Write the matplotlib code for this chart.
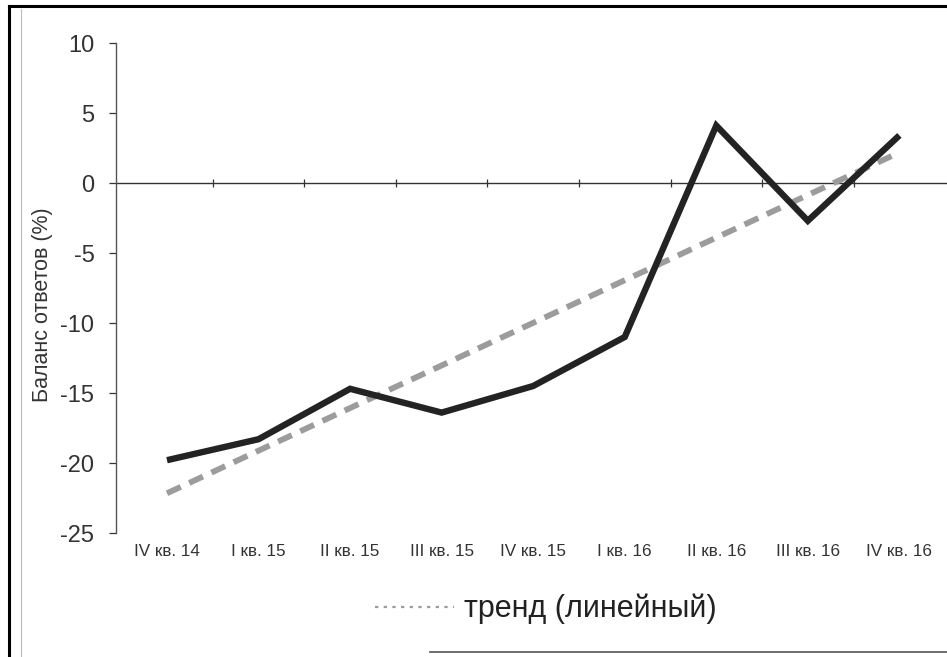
import matplotlib.pyplot as plt
import numpy as np
from matplotlib.lines import Line2D

plt.rcParams["font.family"] = ["Liberation Sans", "DejaVu Sans"]
plt.rcParams["axes.unicode_minus"] = False

# quarters and survey balance (%)
quarters = ["IV кв. 14", "I кв. 15", "II кв. 15", "III кв. 15", "IV кв. 15",
            "I кв. 16", "II кв. 16", "III кв. 16", "IV кв. 16"]
balance = [-19.8, -18.3, -14.7, -16.4, -14.5, -11.0, 4.1, -2.7, 3.4]

x = np.arange(len(quarters))
# linear trend, as in the original ("тренд (линейный)")
k, b = np.polyfit(x, balance, 1)
trend = k * x + b

fig = plt.figure(figsize=(9.47, 6.57), dpi=100)
ax = fig.add_axes([116 / 947, 124 / 657, 1 - 116 / 947, 490 / 657])

ax.plot(x, balance, color="#232323", lw=4.6, solid_joinstyle="miter",
        solid_capstyle="butt", zorder=3)
tr, = ax.plot(x, trend, color="#9c9c9c", lw=4.2, dashes=(2.6, 1.6),
              label="тренд (линейный)", zorder=2)

ax.set_ylim(-25, 10)
ax.set_xlim(-0.557, 8.52)
ax.set_yticks(range(-25, 11, 5))
ax.tick_params(axis="y", direction="out", length=5, width=0.9,
               labelsize=17, pad=10.5, colors="#333333")
ax.set_ylabel("Баланс ответов (%)", fontsize=15.5, color="#333333")
ax.yaxis.set_label_coords(-0.076, 0.465)

for s in ["top", "right", "bottom"]:
    ax.spines[s].set_visible(False)
ax.spines["left"].set_color("#555555")
ax.spines["left"].set_linewidth(1.0)

# category labels at the bottom
ax.set_xticks(x)
ax.set_xticklabels(quarters)
ax.tick_params(axis="x", length=0, labelsize=12.3, pad=8, colors="#333333")

# category axis crossing at zero with ticks between categories
sec = ax.secondary_xaxis(0, transform=ax.transData)
sec.spines["bottom"].set_color("#333333")
sec.spines["bottom"].set_linewidth(1.0)
sec.set_xticks(x[:-1] + 0.5)
sec.set_xticklabels([])
sec.tick_params(direction="inout", length=6, width=0.9, colors="#333333")

leg = ax.legend(handles=[tr], loc="center", bbox_to_anchor=(0.517, -0.155),
                frameon=False, fontsize=22, handlelength=2.6, handletextpad=0.3)
h = leg.legend_handles[0]
h.set_linewidth(1.6)
h.set_dashes((1.5, 2.4))
for t in leg.get_texts():
    t.set_color("#222222")

# page border of the scanned figure
fig.add_artist(Line2D([9 / 947, 9 / 947], [0, 1 - 6 / 657],
                      transform=fig.transFigure, color="black", lw=2.2))
fig.add_artist(Line2D([9 / 947, 1], [1 - 6 / 657, 1 - 6 / 657],
                      transform=fig.transFigure, color="black", lw=2.2))
fig.add_artist(Line2D([21 / 947, 21 / 947], [0, 1 - 9 / 657],
                      transform=fig.transFigure, color="#bbbbbb", lw=0.8))
fig.add_artist(Line2D([430 / 947, 1], [5 / 657, 5 / 657],
                      transform=fig.transFigure, color="#555555", lw=1.2))

fig.savefig("out.png", dpi=100)
